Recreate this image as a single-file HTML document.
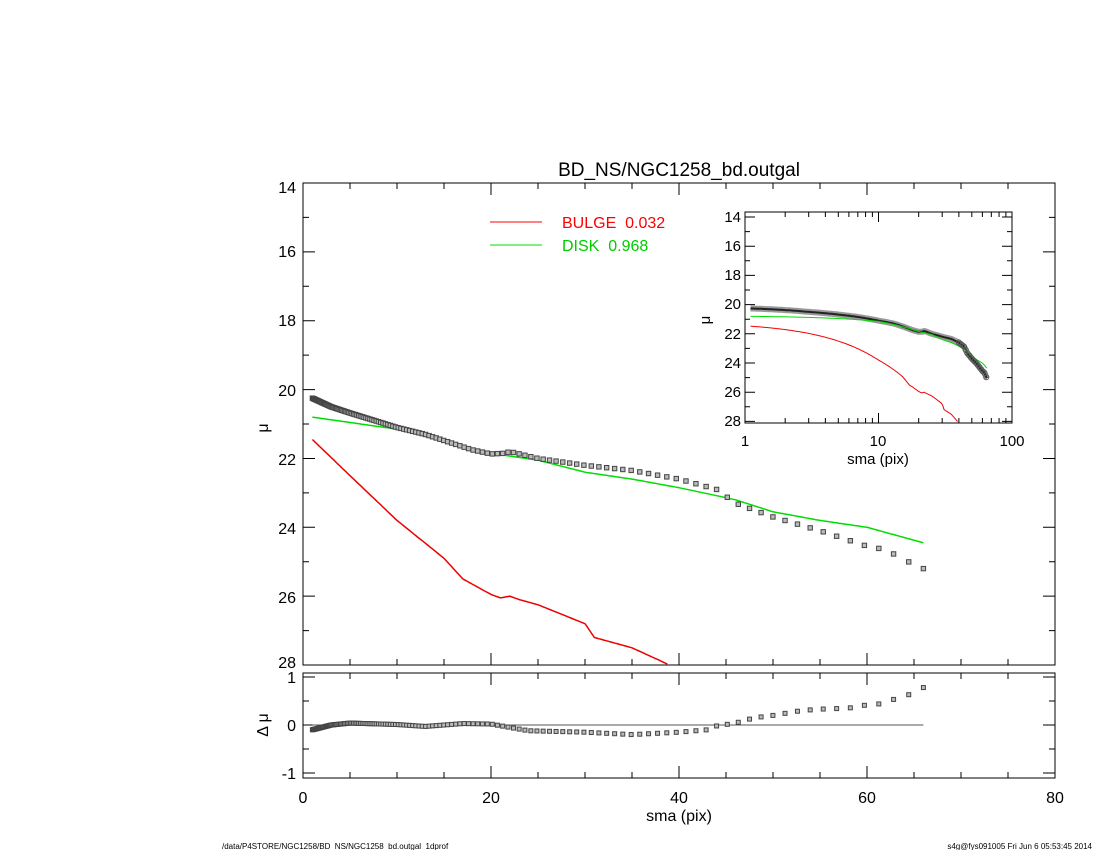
<!DOCTYPE html>
<html><head><meta charset="utf-8"><style>
body{margin:0;background:#fff;}
svg{display:block;font-family:"Liberation Sans",sans-serif;}
</style></head><body>
<svg id="s" width="1100" height="850" viewBox="0 0 1100 850" xmlns="http://www.w3.org/2000/svg">
<rect width="1100" height="850" fill="#fff"/>
<text x="679" y="176" font-size="19" text-anchor="middle">BD_NS/NGC1258_bd.outgal</text>
<g font-size="16" text-anchor="end">
<text x="296" y="193">14</text><text x="296" y="257">16</text><text x="296" y="326">18</text>
<text x="296" y="396">20</text><text x="296" y="465">22</text><text x="296" y="534">24</text>
<text x="296" y="603">26</text><text x="296" y="668">28</text>
<text x="296" y="683">1</text><text x="296" y="731">0</text><text x="296" y="779">-1</text>
</g>
<text x="268" y="428" font-size="16" transform="rotate(-90 268 428)" text-anchor="middle">μ</text>
<text x="268" y="725" font-size="16" transform="rotate(-90 268 725)" text-anchor="middle">Δ μ</text>
<g font-size="16" text-anchor="middle">
<text x="303" y="803">0</text><text x="491" y="803">20</text><text x="679" y="803">40</text>
<text x="867" y="803">60</text><text x="1055" y="803">80</text>
<text x="679" y="821">sma (pix)</text>
</g>
<line x1="490" y1="222" x2="542" y2="222" stroke="#f00" stroke-width="1"/>
<text x="562" y="228" font-size="16" fill="#f00">BULGE&#160;&#160;0.032</text>
<line x1="490" y1="245" x2="542" y2="245" stroke="#0d0" stroke-width="1"/>
<text x="562" y="251" font-size="16" fill="#0c0">DISK&#160;&#160;0.968</text>
<g font-size="15" text-anchor="end">
<text x="741" y="222">14</text><text x="741" y="251">16</text><text x="741" y="280">18</text>
<text x="741" y="309">20</text><text x="741" y="339">22</text><text x="741" y="368">24</text>
<text x="741" y="397">26</text><text x="741" y="426">28</text>
</g>
<text x="710" y="320" font-size="15" transform="rotate(-90 710 320)" text-anchor="middle">μ</text>
<g font-size="15" text-anchor="middle">
<text x="745" y="446">1</text><text x="878" y="446">10</text><text x="1012" y="446">100</text>
<text x="878" y="464">sma (pix)</text>
</g>
<text x="222" y="849" font-size="8">/data/P4STORE/NGC1258/BD_NS/NGC1258_bd.outgal_1dprof</text>
<text x="1092" y="849" font-size="8" text-anchor="end">s4g@fys091005  Fri Jun  6 05:53:45 2014</text>
<g id="g"></g>
</svg>
<script>
var g=document.getElementById('g'),h='';
function ip(d,x){for(var i=0;i<d.length-1;i++){if(x<=d[i+1][0])return d[i][1]+(d[i+1][1]-d[i][1])*(x-d[i][0])/(d[i+1][0]-d[i][0]);}return d[d.length-1][1];}
var obs=[[1,20.25],[3,20.5],[5,20.68],[10,21.1],[13,21.3],[15,21.48],[18,21.75],[20,21.87],[21.5,21.85],[22,21.8],[25,22.0],[30,22.2],[35,22.35],[40,22.6],[44,22.9],[46,23.3],[50,23.7],[55,24.1],[60,24.55],[62,24.65],[64,24.95],[66,25.2]];
var dsk=[[1,20.8],[10,21.15],[20,21.85],[25,22.05],[30,22.4],[35,22.6],[40,22.85],[46,23.2],[50,23.55],[55,23.8],[60,24.0],[66,24.45]];
var blg=[[1,21.45],[5,22.5],[10,23.8],[15,24.9],[17,25.5],[20,25.95],[21,26.05],[22,26.0],[23,26.1],[25,26.25],[30,26.8],[31,27.2],[35,27.5],[39,28.0],[42,28.4]];
var res=[[1,-0.1],[3,0],[5,0.04],[10,0.01],[13,-0.03],[17,0.03],[20,0.02],[22,-0.05],[24,-0.12],[30,-0.15],[35,-0.2],[40,-0.15],[43,-0.1],[44,-0.02],[46,0.04],[48,0.15],[50,0.2],[53,0.3],[55,0.33],[58,0.35],[60,0.42],[62,0.45],[63.5,0.6],[65,0.65],[66,0.78]];
function X(x){return 303+9.4*x;}function Y(m){return 183+(m-14)*34.43;}
function RY(d){return 725-48*d;}
function IX(x){return 745+133.5*Math.log10(x);}function IY(m){return 217+(m-14)*14.6;}
function line(d,fx,fy,c,w,ymax){var p='';for(var x=d[0][0];x<=d[d.length-1][0]+1e-9;x+=0.25){var y=ip(d,x);if(fy(y)>(ymax||1e9))break;p+=(p?'L':'M')+fx(x).toFixed(1)+' '+fy(y).toFixed(1);}h+='<path d="'+p+'" fill="none" stroke="'+c+'" stroke-width="'+w+'"/>';}
var s=[],x=1;while(x<=65){s.push(x);x=x*1.025+0.04;}s.push(66);
function box(x0,y0,x1,y1){h+='<rect x="'+x0+'" y="'+y0+'" width="'+(x1-x0)+'" height="'+(y1-y0)+'" fill="none" stroke="#000" stroke-width="1"/>';}
box(303,183,1055,665);box(303,673,1055,778);
for(var v=0;v<=80;v+=5){var L=v%20?6:12,xx=X(v);h+='<path d="M'+xx+' 665v-'+L+'M'+xx+' 183v'+L+'M'+xx+' 778v-'+L+'M'+xx+' 673v'+L+'" stroke="#000"/>';}
for(var m=14;m<=28;m++){var L=m%2?6:12,yy=Y(m);h+='<path d="M303 '+yy+'h'+L+'M1055 '+yy+'h-'+L+'" stroke="#000"/>';}
[-1,-0.5,0,0.5,1].forEach(function(d){var L=d%1?6:12,yy=RY(d);h+='<path d="M303 '+yy+'h'+L+'M1055 '+yy+'h-'+L+'" stroke="#000"/>';});
h+='<line x1="'+X(1)+'" y1="725" x2="'+X(66)+'" y2="725" stroke="#555" stroke-width="1"/>';
line(blg,X,Y,'#e00',1.5,665);line(dsk,X,Y,'#0d0',1.5);
s.forEach(function(x){var y=Y(ip(obs,x));h+='<rect x="'+(X(x)-2.2)+'" y="'+(y-2.2)+'" width="4.4" height="4.4" fill="#bbb" stroke="#444" stroke-width="1"/>';
var r=RY(ip(res,x));h+='<rect x="'+(X(x)-2)+'" y="'+(r-2)+'" width="4" height="4" fill="#bbb" stroke="#444" stroke-width="1"/>';});
h+='<rect x="745" y="212" width="267" height="211" fill="#fff" stroke="#000"/>';
for(var d=0;d<2;d++)for(var k=1;k<10;k++){var xx=IX(Math.pow(10,d)*k),L=k==1?10:5;h+='<path d="M'+xx+' 423v-'+L+'M'+xx+' 212v'+L+'" stroke="#000"/>';}
for(var m=14;m<=28;m++){var L=m%2?5:10,yy=IY(m);h+='<path d="M745 '+yy+'h'+L+'M1012 '+yy+'h-'+L+'" stroke="#000"/>';}
function lineL(d,c,w){var p='';for(var lx=Math.log10(1.1);lx<=Math.log10(66);lx+=0.01){var x=Math.pow(10,lx),y=IY(ip(d,x));if(y>423)break;p+=(p?'L':'M')+IX(x).toFixed(1)+' '+y.toFixed(1);}h+='<path d="'+p+'" fill="none" stroke="'+c+'" stroke-width="'+w+'"/>';}
lineL(obs,'#999',6);lineL(obs,'#222',2);lineL(dsk,'#0d0',1);lineL(blg,'#e00',1);
for(var x=40;x<=66;x*=1.03){h+='<circle cx="'+IX(x)+'" cy="'+IY(ip(obs,x))+'" r="2.5" fill="none" stroke="#555"/>';}
g.innerHTML=h;
</script>
</body></html>
